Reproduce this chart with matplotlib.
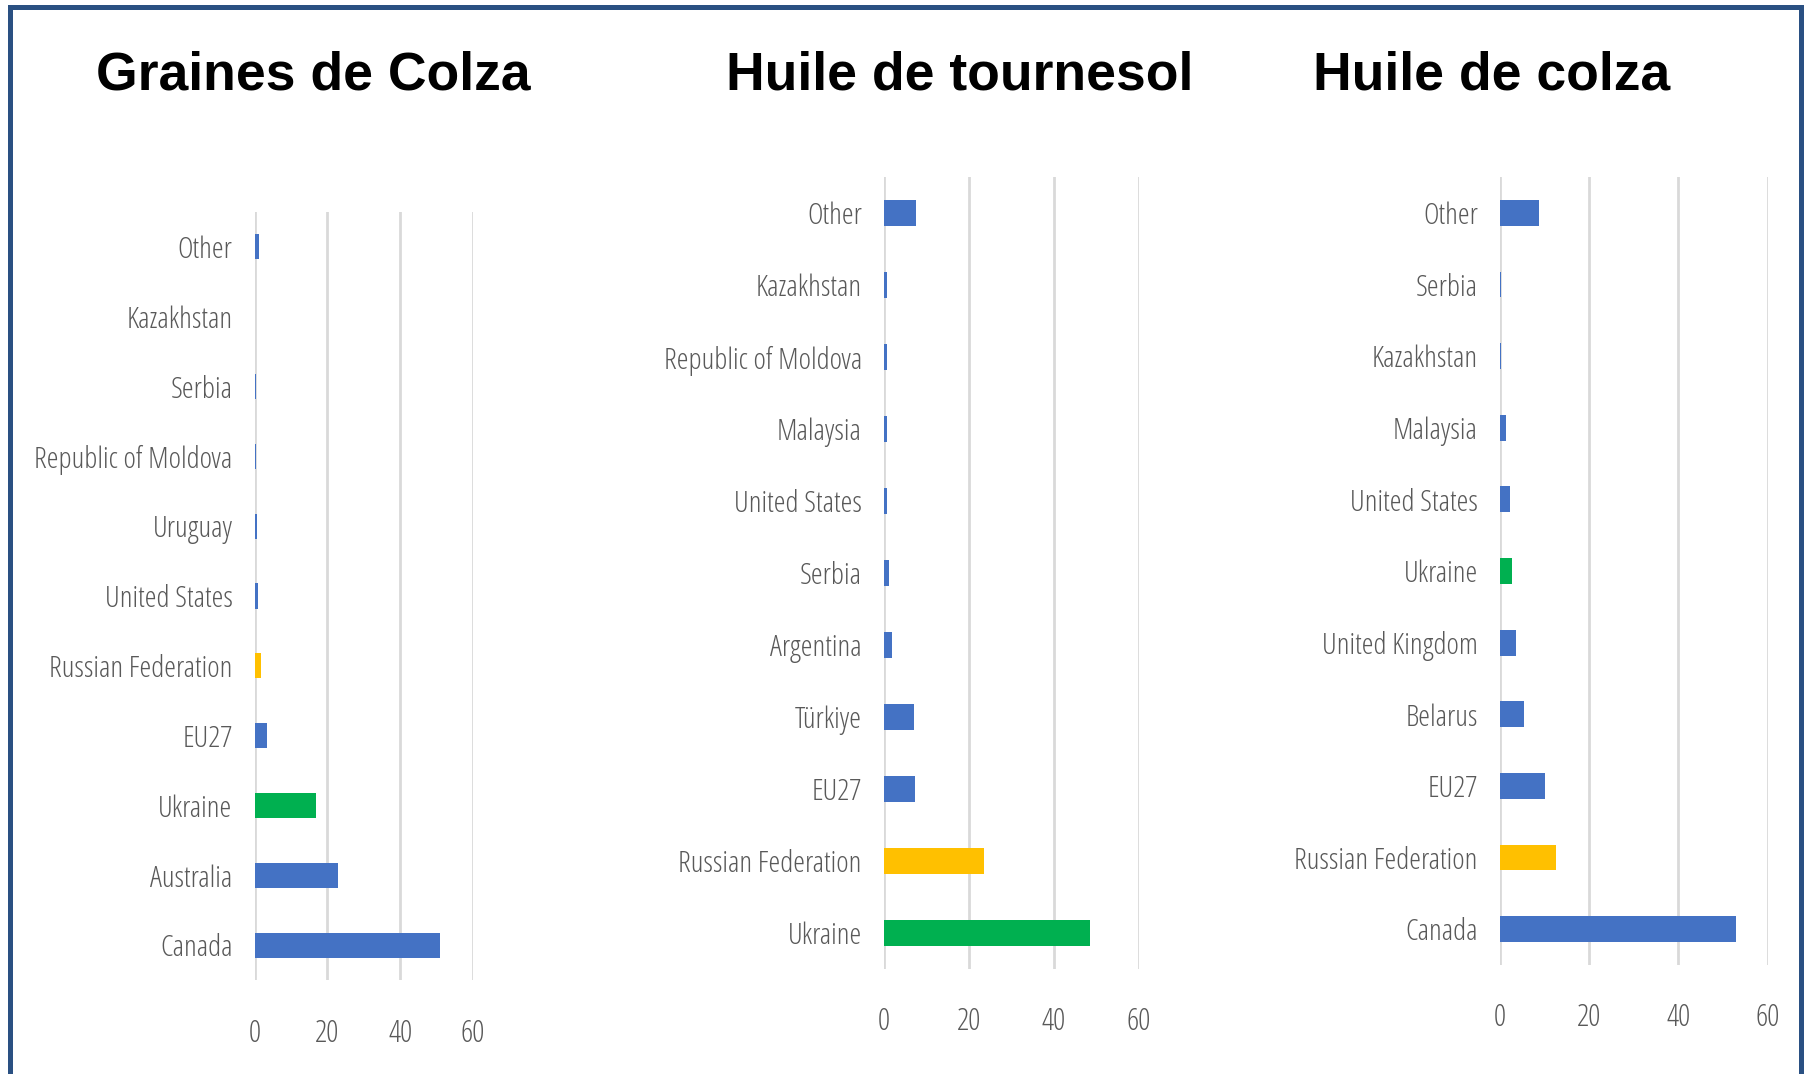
import matplotlib
matplotlib.use("Agg")
import matplotlib.pyplot as plt
from matplotlib import font_manager
from matplotlib.patches import Rectangle

# ── Data ──────────────────────────────────────────────────────────────────────
titles = ["Graines de Colza", "Huile de tournesol", "Huile de colza"]

seeds_countries = ["Other", "Kazakhstan", "Serbia", "Republic of Moldova", "Uruguay",
                   "United States", "Russian Federation", "EU27", "Ukraine",
                   "Australia", "Canada"]
seeds_values = [1.2, 0.1, 0.3, 0.3, 0.6, 0.9, 1.7, 3.5, 17.0, 22.8, 51.0]

sun_countries = ["Other", "Kazakhstan", "Republic of Moldova", "Malaysia",
                 "United States", "Serbia", "Argentina", "Türkiye", "EU27",
                 "Russian Federation", "Ukraine"]
sun_values = [7.5, 0.7, 0.7, 0.8, 0.7, 1.2, 1.8, 7.0, 7.2, 23.5, 48.5]

oil_countries = ["Other", "Serbia", "Kazakhstan", "Malaysia", "United States",
                 "Ukraine", "United Kingdom", "Belarus", "EU27",
                 "Russian Federation", "Canada"]
oil_values = [8.7, 0.3, 0.3, 1.3, 2.3, 2.75, 3.5, 5.3, 10.0, 12.5, 53.0]

x_ticks = [0, 20, 40, 60]

BLUE, GREEN, YELLOW = "#4472C4", "#00B050", "#FFC000"
special = {"Ukraine": GREEN, "Russian Federation": YELLOW}


def find_condensed():
    # look for a narrow sans face to mimic the squeezed Excel labels
    prefs = ["Open Sans", "Liberation Sans Narrow", "DejaVu Sans", "Roboto", "Noto Sans"]
    hits = []
    for f in font_manager.fontManager.ttflist:
        name = f.fname.lower()
        cond = ("condensed" in str(f.stretch)) or ("condensed" in name) or ("narrow" in name)
        if cond and "bold" not in name and "italic" not in name and "oblique" not in name:
            hits.append(f)
    for p in prefs:
        for f in hits:
            if f.name == p:
                return font_manager.FontProperties(fname=f.fname)
    if hits:
        return font_manager.FontProperties(fname=hits[0].fname)
    return font_manager.FontProperties(family="DejaVu Sans")


label_fp = find_condensed()
TXT = "#595959"
GRID = "#D9D9D9"

W, H = 1808, 1074
fig = plt.figure(figsize=(W / 100, H / 100), dpi=100)

# axes boxes in pixels: (left, top, right, bottom)
boxes = [(254.6, 212, 473, 980),
         (884, 177, 1138.7, 969),
         (1500, 177, 1767.7, 965)]
title_x = [313, 960, 1491.5]

panels = [(seeds_countries, seeds_values),
          (sun_countries, sun_values),
          (oil_countries, oil_values)]

for (cats, vals), (l, t, r, b), title, tx in zip(panels, boxes, titles, title_x):
    ax = fig.add_axes([l / W, 1 - b / H, (r - l) / W, (b - t) / H])
    colors = [special.get(c, BLUE) for c in cats]
    pos = list(range(len(cats)))
    ax.barh(pos, vals, height=0.36, color=colors, edgecolor="none", zorder=3)
    ax.set_ylim(len(cats) - 0.5, -0.5)
    ax.set_xlim(0, 60)
    ax.set_xticks(x_ticks)
    ax.set_yticks(pos)
    ax.set_yticklabels(cats, fontproperties=label_fp, fontsize=21.5, color=TXT)
    ax.set_xticklabels([str(v) for v in x_ticks], fontproperties=label_fp,
                       fontsize=22, color=TXT)
    ax.tick_params(axis="y", length=0, pad=16)
    ax.tick_params(axis="x", length=0, pad=27)
    ax.grid(axis="x", color=GRID, linewidth=2.0, zorder=0)
    for s in ax.spines.values():
        s.set_visible(False)
    fig.text(tx / W, 1 - 89 / H, title, ha="center", va="baseline",
             fontsize=38.5, fontweight="bold", family="Liberation Sans", color="black")

# dark blue frame around the whole picture (bottom edge falls outside)
fig.patches.append(Rectangle((9.5 / W, -0.05), (1801.5 - 9.5) / W, 1.05 - 7 / H,
                             transform=fig.transFigure, fill=False,
                             edgecolor="#2A5082", linewidth=3.6, zorder=10))

fig.savefig("out.png", dpi=100, facecolor="white")
